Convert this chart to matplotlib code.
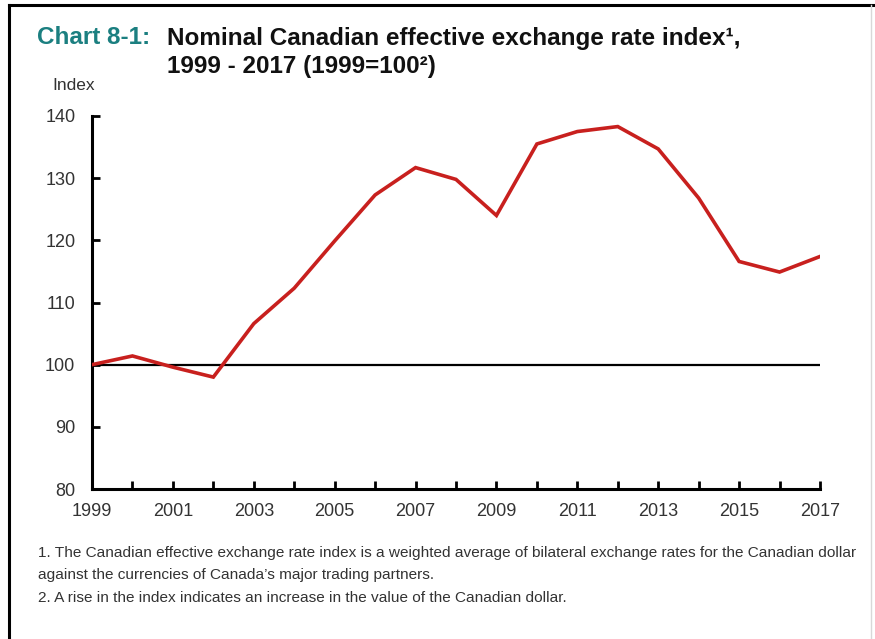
import matplotlib
matplotlib.use("Agg")
import matplotlib.pyplot as plt
from matplotlib import font_manager
from matplotlib.lines import Line2D

# Nominal Canadian effective exchange rate index, 1999 = 100
years = [1999, 2000, 2001, 2002, 2003, 2004, 2005, 2006, 2007, 2008,
         2009, 2010, 2011, 2012, 2013, 2014, 2015, 2016, 2017]
index_values = [100.0, 101.4, 99.6, 98.0, 106.6, 112.3, 119.9, 127.3, 131.7, 129.8,
                124.0, 135.5, 137.5, 138.3, 134.7, 126.8, 116.6, 114.9, 117.4]

x_tick_labels = ["1999", "2001", "2003", "2005", "2007", "2009", "2011", "2013", "2015", "2017"]
y_ticks = [80, 90, 100, 110, 120, 130, 140]

title_prefix = "Chart 8-1:"
title_lines = ["Nominal Canadian effective exchange rate index\u00b9,",
               "1999 - 2017 (1999=100\u00b2)"]
footnotes = [
    "1. The Canadian effective exchange rate index is a weighted average of bilateral exchange rates for the Canadian dollar",
    "against the currencies of Canada\u2019s major trading partners.",
    "2. A rise in the index indicates an increase in the value of the Canadian dollar.",
]

available = {f.name for f in font_manager.fontManager.ttflist}
main_font = "Liberation Sans" if "Liberation Sans" in available else "DejaVu Sans"
plt.rcParams["font.family"] = [main_font, "DejaVu Sans"]

W, H = 875, 639
fig = plt.figure(figsize=(W / 100, H / 100), dpi=100)
fig.patch.set_facecolor("white")

# outer frame
fig.add_artist(Line2D([9 / W, 9 / W], [0, 1 - 5 / H], transform=fig.transFigure,
                      color="black", lw=2.2))
fig.add_artist(Line2D([9 / W, 1], [1 - 5 / H, 1 - 5 / H], transform=fig.transFigure,
                      color="black", lw=2.2))
fig.add_artist(Line2D([871 / W, 871 / W], [0, 1 - 5 / H], transform=fig.transFigure,
                      color="#d8d8d8", lw=1.0))

# title block
fig.text(37 / W, 1 - 38 / H, title_prefix, color="#1b7f80", fontsize=17.5,
         fontweight="bold", va="center", ha="left")
fig.text(167 / W, 1 - 38 / H, title_lines[0], color="#111111", fontsize=17.5,
         fontweight="bold", va="center", ha="left")
fig.text(167 / W, 1 - 67 / H, title_lines[1], color="#111111", fontsize=17.5,
         fontweight="bold", va="center", ha="left")
fig.text(52 / W, 1 - 85 / H, "Index", color="#333333", fontsize=12.5,
         va="center", ha="left")

ax = fig.add_axes([92 / W, 1 - 489 / H, (820 - 92) / W, (489 - 116) / H])
ax.plot(years, index_values, color="#c8201e", lw=2.6, solid_joinstyle="miter", zorder=3)
ax.axhline(100, color="black", lw=1.6, zorder=2)

ax.set_xlim(1999, 2017)
ax.set_ylim(80, 140)
ax.set_xticks(years)
ax.set_xticklabels([str(y) if str(y) in x_tick_labels else "" for y in years])
ax.set_yticks(y_ticks)
ax.set_yticklabels([str(v) for v in y_ticks])

for side in ("top", "right"):
    ax.spines[side].set_visible(False)
for side in ("left", "bottom"):
    ax.spines[side].set_linewidth(2.2)
    ax.spines[side].set_color("black")

ax.tick_params(axis="both", direction="in", length=6, width=2, color="black",
               labelsize=13, labelcolor="#333333")
ax.tick_params(axis="y", pad=12)
ax.tick_params(axis="x", pad=10)
ax.set_facecolor("white")

# footnotes, sized so the longest line fits inside the frame
foot_y = [553, 575, 598]
foot_texts = []
for txt, yy in zip(footnotes, foot_y):
    foot_texts.append(fig.text(38 / W, 1 - yy / H, txt, color="#333333", fontsize=12,
                               va="center", ha="left"))
renderer = fig.canvas.get_renderer()
widest = max(t.get_window_extent(renderer).width for t in foot_texts)
target = 858 - 38
if widest > target:
    size = 12 * target / widest
    for t in foot_texts:
        t.set_fontsize(size)

fig.savefig("out.png", dpi=100, facecolor="white")
